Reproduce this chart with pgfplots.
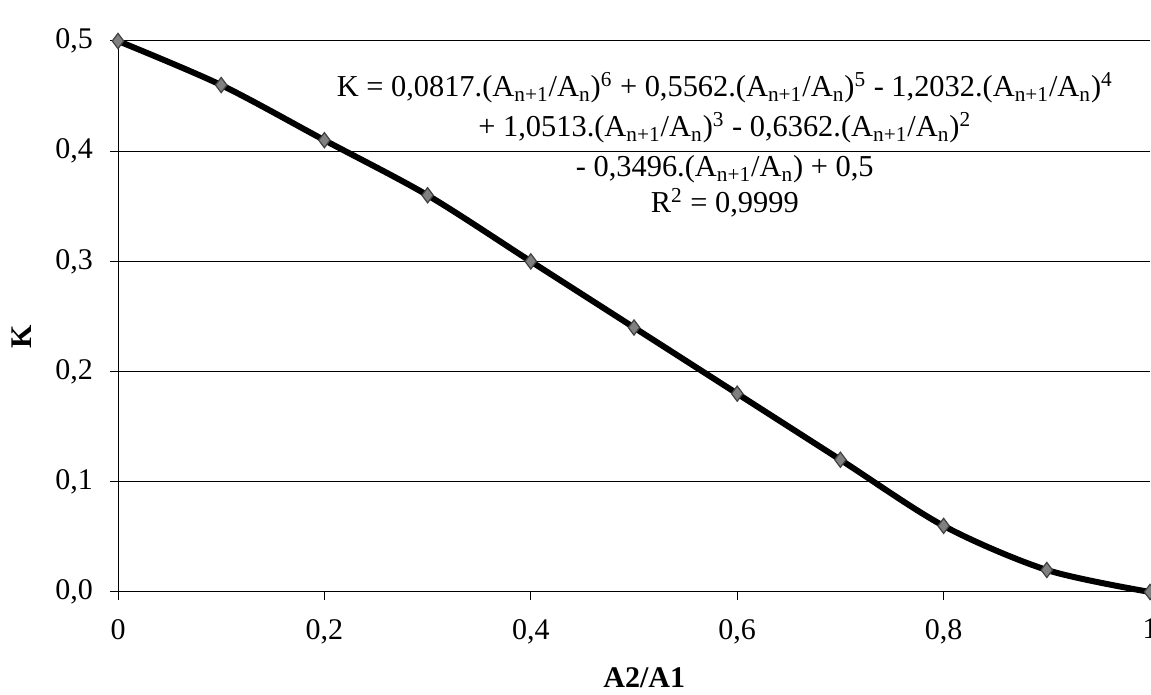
\documentclass[border=0pt]{standalone}
\usepackage{fontspec}
\setmainfont{Liberation Serif}
\usepackage{pgfplots}
\pgfplotsset{compat=1.18}
\newcommand{\An}{(A\textsubscript{n+1}/A\textsubscript{n})}
\begin{document}
\begin{tikzpicture}[x=1pt,y=1pt]
\useasboundingbox (0,0) rectangle (575.5,347.5);
\begin{axis}[
  at={(59pt,51.5pt)}, anchor=south west,
  scale only axis, width=516pt, height=275.5pt,
  xmin=0, xmax=1, ymin=0, ymax=0.5,
  clip=false,
  axis x line*=bottom, axis y line*=left,
  axis line style={black, line width=0.5pt},
  tick align=outside, major tick length=4pt,
  tick style={black, line width=0.5pt},
  xtick={0,0.2,0.4,0.6,0.8,1},
  ytick={0,0.1,0.2,0.3,0.4,0.5},
  ymajorgrids, grid style={black, line width=0.5pt},
  /pgf/number format/assume math mode=true,
  ticklabel style={font=\fontsize{15}{18}\selectfont},
  xticklabel style={yshift=-6pt, /pgf/number format/.cd, use comma, fixed, precision=1},
  yticklabel style={anchor=east, xshift=-5pt, /pgf/number format/.cd, use comma, fixed, fixed zerofill, precision=1},
  xlabel={\textbf{A2/A1}}, ylabel={\textbf{K}},
  label style={font=\fontsize{15}{18}\selectfont},
  xlabel style={at={(axis description cs:0.51,0)}, anchor=center, yshift=-43pt},
  ylabel style={at={(axis description cs:-0.093,0.463)}, anchor=center},
]
\addplot[black, line width=3pt, smooth, tension=0.5, mark=diamond*, mark size=3.8pt,
  mark options={fill=gray, draw=black!75, line width=0.6pt}]
  coordinates {(0,0.5) (0.1,0.46) (0.2,0.41) (0.3,0.36) (0.4,0.30) (0.5,0.24)
  (0.6,0.18) (0.7,0.12) (0.8,0.06) (0.9,0.02) (1.0,0.0)};
\node[align=center, anchor=north, font=\fontsize{15.2}{20}\selectfont, inner sep=0pt]
  at (axis cs:0.588,0.472)
  {K = 0,0817.\An\textsuperscript{6} + 0,5562.\An\textsuperscript{5} - 1,2032.\An\textsuperscript{4}\\
   + 1,0513.\An\textsuperscript{3} - 0,6362.\An\textsuperscript{2}\\
   - 0,3496.\An{} + 0,5\\[-2pt]
   R\textsuperscript{2} = 0,9999};
\end{axis}
\end{tikzpicture}
\end{document}
